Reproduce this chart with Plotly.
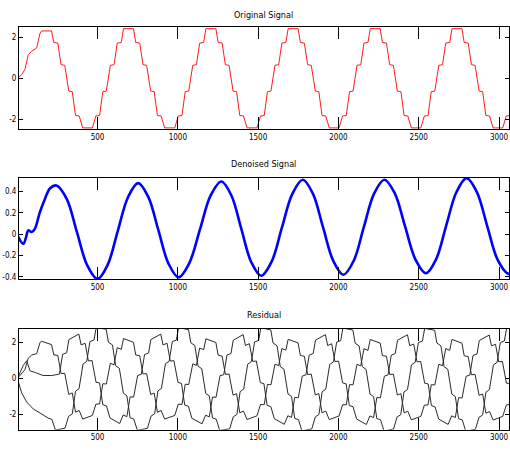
import numpy as np
import plotly.graph_objects as go

# ---------------- data ----------------
# one cycle of the stair-step waveform: offsets (samples) from a peak centre, and levels
STEP_T = [-225, -203, -180, -160, -138, -113, -90, -70, -45, -31,
          31, 45, 70, 90, 113, 138, 160, 180, 203, 225]
STEP_V = [-2.40, -1.82, -1.80, -0.64, -0.61, 0.64, 0.67, 1.72, 1.75, 2.42,
          2.42, 1.75, 1.72, 0.67, 0.64, -0.61, -0.64, -1.80, -1.82, -2.40]

# peak centres of the three phases (samples)
PEAKS_A = [183, 693, 1206, 1718, 2229, 2738, 3248]
PEAKS_B = [353, 863, 1376, 1888, 2399, 2908, 3418]
PEAKS_C = [13, 523, 1036, 1548, 2059, 2568, 3078]

# start-up transients (before the steady stair-steps)
START_A_X = [1, 28, 48, 69, 90, 121, 142, 152, 214]
START_A_Y = [0.0, 0.19, 0.43, 1.16, 1.32, 1.48, 2.20, 2.31, 2.31]
START_B_X = [1, 38, 59, 80, 115, 160, 215]
START_B_Y = [0.0, 0.64, 0.97, 0.45, 0.40, 0.45, 0.60]
START_C_X = [1, 28, 59, 100, 142, 193]
START_C_Y = [0.0, -0.87, -1.31, -1.65, -1.70, -1.80]

# denoised signal
DEN_X = [1, 15, 38, 55, 69, 90, 110, 140, 170, 205, 245,
         309, 372, 436, 500,
         563, 626, 690, 753,
         816, 879, 942, 1005,
         1071, 1138, 1204, 1271,
         1333, 1395, 1457, 1519,
         1584, 1648, 1713, 1778,
         1841, 1904, 1968, 2031,
         2095, 2158, 2222, 2286,
         2351, 2415, 2480, 2545,
         2608, 2671, 2735, 2798,
         2862, 2926, 2991, 3055, 3070]
DEN_Y = [0.0, -0.05, -0.09, -0.03, 0.035, 0.02, 0.05, 0.20, 0.32, 0.43, 0.456,
         0.328, 0.018, -0.292, -0.42,
         -0.288, 0.029, 0.346, 0.478,
         0.349, 0.037, -0.276, -0.405,
         -0.273, 0.044, 0.361, 0.493,
         0.364, 0.052, -0.261, -0.39,
         -0.258, 0.06, 0.377, 0.509,
         0.379, 0.065, -0.25, -0.38,
         -0.25, 0.065, 0.38, 0.51,
         0.382, 0.072, -0.238, -0.366,
         -0.236, 0.08, 0.395, 0.525,
         0.394, 0.078, -0.239, -0.37, -0.368]

X_TICKS = [500, 1000, 1500, 2000, 2500, 3000]
X_LABELS = ["500", "1000", "1500", "2000", "2500", "3000"]
Y1_TICKS = [-2, 0, 2]
Y2_TICKS = [-0.4, -0.2, 0, 0.2, 0.4]
Y2_LABELS = ["-0.4", "-0.2", "0", "0.2", "0.4"]
Y3_TICKS = [-2, 0, 2]
TITLES = ["Original Signal", "Denoised Signal", "Residual"]


def build(sx, sy, peaks):
    xs, ys = list(sx), list(sy)
    for c in peaks:
        for t, v in zip(STEP_T, STEP_V):
            if c + t > sx[-1]:
                xs.append(c + t)
                ys.append(v)
    return np.array(xs, float), np.array(ys, float)


ax, ay = build(START_A_X, START_A_Y, PEAKS_A)
bx, by = build(START_B_X, START_B_Y, PEAKS_B)
cx, cy = build(START_C_X, START_C_Y, PEAKS_C)
den_x = np.array(DEN_X, float)
den_y = np.array(DEN_Y, float)

FONT = "Liberation Sans Narrow, Arial Narrow, DejaVu Sans Condensed, sans-serif"

fig = go.Figure()
fig.add_trace(go.Scatter(x=ax, y=ay, mode="lines",
                         line=dict(color="#ff1a1a", width=1), xaxis="x", yaxis="y"))
fig.add_trace(go.Scatter(x=den_x, y=den_y, mode="lines",
                         line=dict(color="#0000ff", width=2.6, shape="spline", smoothing=1),
                         xaxis="x2", yaxis="y2"))
for px_, py_ in [(ax, ay), (bx, by), (cx, cy)]:
    res = py_ - np.interp(px_, den_x, den_y)
    fig.add_trace(go.Scatter(x=px_, y=res, mode="lines",
                             line=dict(color="#2a2a2a", width=1), xaxis="x3", yaxis="y3"))

XR = [11, 3062]
common = dict(ticks="inside", mirror="allticks", showline=True, linecolor="black",
              linewidth=1, tickcolor="black", tickwidth=1, showgrid=False,
              zeroline=False, tickfont=dict(family=FONT, size=8, color="black"))


def xaxis(anchor, dom):
    return dict(domain=[0.03725, 1.0], range=XR, anchor=anchor, tickvals=X_TICKS,
                ticktext=X_LABELS, ticklen=12, **common)


def yaxis(anchor, dom, rng, tv, tt):
    return dict(domain=dom, range=rng, anchor=anchor, tickvals=tv, ticktext=tt,
                ticklen=4, **common)


D1 = [0.7111, 0.94]
D2 = [0.3756, 0.6016]
D3 = [0.0384, 0.2644]

fig.update_layout(
    width=510, height=450, margin=dict(l=0, r=0, t=0, b=0),
    paper_bgcolor="white", plot_bgcolor="white", showlegend=False,
    hovermode=False,
    xaxis=xaxis("y", D1),
    yaxis=yaxis("x", D1, [-2.46, 2.51], Y1_TICKS, ["-2", "0", "2"]),
    xaxis2=xaxis("y2", D2),
    yaxis2=yaxis("x2", D2, [-0.421, 0.525], Y2_TICKS, Y2_LABELS),
    xaxis3=xaxis("y3", D3),
    yaxis3=yaxis("x3", D3, [-2.84, 2.75], Y3_TICKS, ["-2", "0", "2"]),
)

for txt, yp in zip(TITLES, [1 - 15 / 450, 1 - 165 / 450, 1 - 317 / 450]):
    fig.add_annotation(text=txt, x=264.5 / 510, y=yp, xref="paper", yref="paper",
                       showarrow=False, xanchor="center", yanchor="middle",
                       font=dict(family=FONT, size=9, color="black"))

fig.write_html("out.html")
